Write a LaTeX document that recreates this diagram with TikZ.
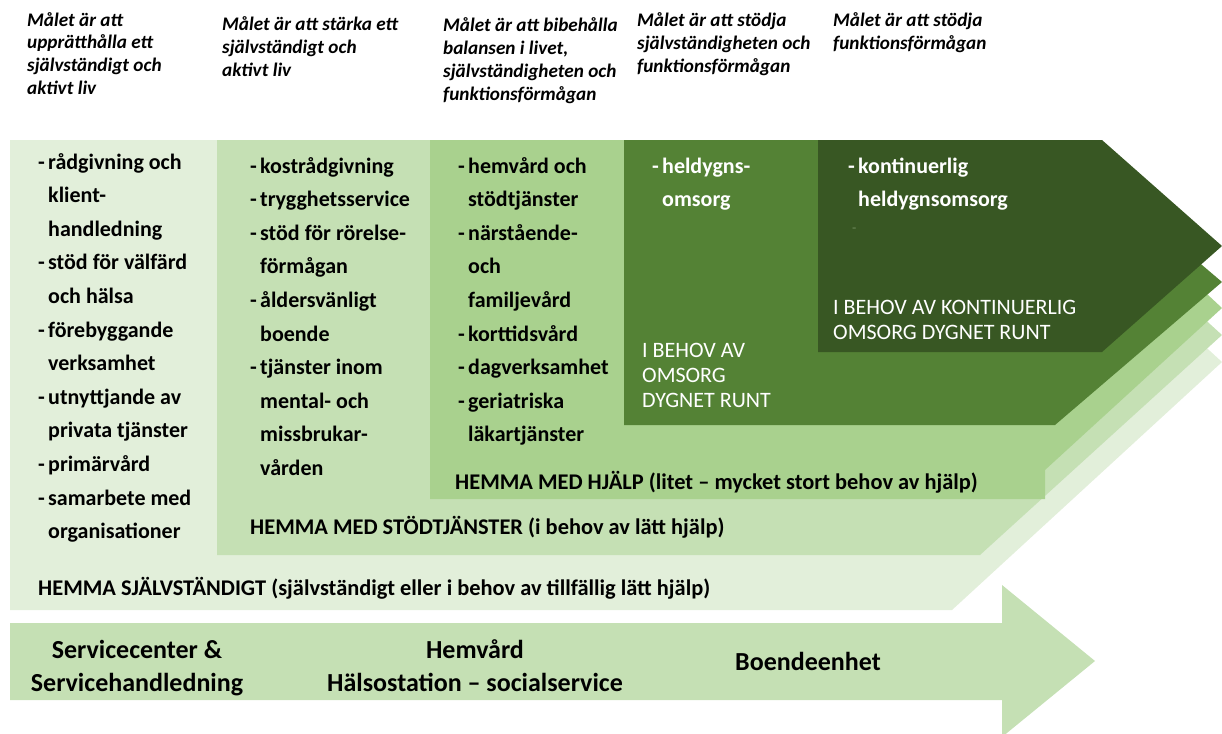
\documentclass[tikz,border=0pt]{standalone}
\usepackage{fontspec}
\setmainfont{Carlito}
\definecolor{gA}{HTML}{E2EFDA}
\definecolor{gB}{HTML}{C5E0B4}
\definecolor{gC}{HTML}{A9D18E}
\definecolor{gD}{HTML}{548235}
\definecolor{gE}{HTML}{385723}
\definecolor{faint}{HTML}{6E8A5C}
\newcommand\itm{\makebox[10pt][l]{-}}
\newcommand\ind{\hspace*{10pt}}
% note: for multi-line nodes the base anchor is the baseline of the last line
\tikzset{
  hdr/.style={anchor=base west, align=left, inner sep=0pt, font=\fontsize{19.2}{22.8}\selectfont\bfseries\itshape},
  lst/.style={anchor=base west, align=left, inner sep=0pt, font=\fontsize{22}{33.6}\selectfont\bfseries},
  wlst/.style={lst, text=white},
  capt/.style={anchor=base west, align=left, inner sep=0pt, font=\fontsize{22}{25}\selectfont, text=white},
  hemma/.style={anchor=base west, inner sep=0pt, font=\fontsize{22.4}{26}\selectfont\bfseries},
  btm/.style={anchor=base, align=center, inner sep=0pt, font=\fontsize{26}{33}\selectfont\bfseries},
}
\begin{document}
\begin{tikzpicture}[x=1pt,y=-1pt]
\useasboundingbox (0,0) rectangle (1222,733);
\clip (0,0) rectangle (1222,733);
% layers
\fill[gA] (10,140) -- (980,140) -- (1222,362) -- (952,610) -- (10,610) -- cycle;
\fill[gB] (217,140) -- (1008,140) -- (1222,335) -- (980,555) -- (217,555) -- cycle;
\fill[gC] (430,140) -- (1042,140) -- (1222,308) -- (1045,470) -- (1045,499) -- (430,499) -- cycle;
\fill[gD] (624,140) -- (1055,140) -- (1222,282) -- (1055,425) -- (624,425) -- cycle;
\fill[gE] (818,140) -- (1102,140) -- (1222,246) -- (1102,352) -- (818,352) -- cycle;
% bottom arrow
\fill[gB] (10,623) -- (1002,623) -- (1002,585) -- (1095,661) -- (1002,737) -- (1002,700) -- (10,700) -- cycle;
% headers
\node[hdr] (h1) at (27,94.4) {Målet är att\\upprätthålla ett\\självständigt och\\aktivt liv};
\node[hdr] (h2) at (222,76.6) {Målet är att stärka ett\\självständigt och\\aktivt liv};
\node[hdr] (h3) at (443,100.4) {Målet är att bibehålla\\balansen i livet,\\självständigheten och\\funktionsförmågan};
\node[hdr] (h4) at (637,72.6) {Målet är att stödja\\självständigheten och\\funktionsförmågan};
\node[hdr] (h5) at (833,49.8) {Målet är att stödja\\funktionsförmågan};
% lists
\node[lst] (l1) at (38,538.6) {\itm rådgivning och\\\ind klient-\\\ind handledning\\\itm stöd för välfärd\\\ind och hälsa\\\itm förebyggande\\\ind verksamhet\\\itm utnyttjande av\\\ind privata tjänster\\\itm primärvård\\\itm samarbete med\\\ind organisationer};
\node[lst] (l2) at (250,475.4) {\itm kostrådgivning\\\itm trygghetsservice\\\itm stöd för rörelse-\\\ind förmågan\\\itm åldersvänligt\\\ind boende\\\itm tjänster inom\\\ind mental- och\\\ind missbrukar-\\\ind vården};
\node[lst] (l3) at (458,441.8) {\itm hemvård och\\\ind stödtjänster\\\itm närstående-\\\ind och\\\ind familjevård\\\itm korttidsvård\\\itm dagverksamhet\\\itm geriatriska\\\ind läkartjänster};
\node[wlst] (l4) at (652,206.6) {\itm heldygns-\\\ind omsorg};
\node[wlst] (l5) at (848,206.6) {\itm kontinuerlig\\\ind heldygnsomsorg};
\node[anchor=base west, inner sep=0pt, text=faint, font=\fontsize{14}{14}\selectfont] (l5x) at (852,232) {-};
% captions
\node[capt] (c4) at (642,407) {I BEHOV AV\\OMSORG\\DYGNET RUNT};
\node[capt] (c5) at (833,339) {I BEHOV AV KONTINUERLIG\\OMSORG DYGNET RUNT};
\node[hemma] (m3) at (455,489) {HEMMA MED HJÄLP (litet – mycket stort behov av hjälp)};
\node[hemma] (m2) at (250,534) {HEMMA MED STÖDTJÄNSTER (i behov av lätt hjälp)};
\node[hemma] (m1) at (38,595) {HEMMA SJÄLVSTÄNDIGT (självständigt eller i behov av tillfällig lätt hjälp)};
% bottom arrow texts
\node[btm] (b1) at (137,691) {Servicecenter \&\\Servicehandledning};
\node[btm] (b2) at (475,691) {Hemvård\\Hälsostation – socialservice};
\node[btm] (b3) at (808,670) {Boendeenhet};
\end{tikzpicture}
\end{document}
